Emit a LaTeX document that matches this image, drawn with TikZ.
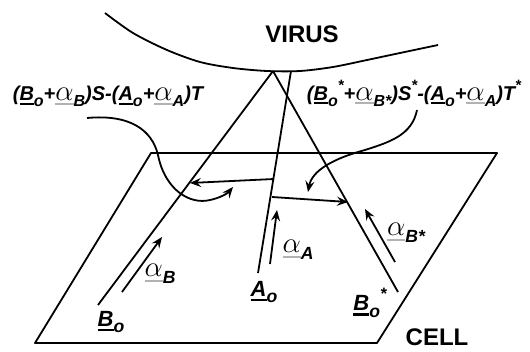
\documentclass[tikz,border=0pt]{standalone}
\usepackage{fontspec}
\setmainfont{Liberation Sans}
\usepackage{graphicx}
\usetikzlibrary{arrows.meta}

% underlined symbol, rule in the given colour
\newcommand\undl[2][black]{\setbox0\hbox{#2}\leavevmode\rlap{\textcolor{#1}{\rule[-0.22em]{\wd0}{0.1em}}}\box0}
% lowered / raised small text
\newcommand\subx[1]{\raisebox{-0.3em}{\scalebox{0.8}{#1}}}
\newcommand\supx[1]{\raisebox{0.5em}{\scalebox{0.75}{#1}}}
\newcommand\alphaul{\undl[gray!60]{\scalebox{1.4}{$\alpha$}}}

\tikzset{
  edge/.style={line width=1.8pt, line join=round},
  vec/.style={line width=1.8pt, -{Stealth[length=11pt,width=9pt,inset=4pt]}},
  lbl/.style={font=\fontsize{22}{24}\selectfont\bfseries\itshape, inner sep=0pt},
  formula/.style={font=\fontsize{20}{22}\selectfont\bfseries\itshape, inner sep=0pt},
  title/.style={font=\fontsize{24}{26}\selectfont\bfseries, inner sep=0pt}
}

\begin{document}
\begin{tikzpicture}[x=1pt,y=-1pt]
\useasboundingbox (0,0) rectangle (530,351);

% virus membrane
\draw[edge] plot[smooth] coordinates {(105,13) (133,33) (167,50) (200,62) (233,68) (267,71) (300,71) (333,67) (367,60) (400,53) (438,45)};
\node[title] (virus) at (302,34) {VIRUS};

% cell surface
\coordinate (p1) at (151,153);
\coordinate (p2) at (497,153);
\coordinate (p3) at (377,343);
\coordinate (p4) at (35,343);
\draw[edge] (p1) -- (p2) -- (p3) -- (p4) -- cycle;
\node[title] (cell) at (437,337) {CELL};

% binding lines from the virus to the cell
\coordinate (apex) at (273,71);
\coordinate (bend) at (98,305);
\coordinate (bsend) at (398,292);
\coordinate (atop) at (291,71);
\coordinate (aend) at (258,273);
\draw[edge] (apex) -- (bend);
\draw[edge] (apex) -- (bsend);
\draw[edge] (atop) -- (aend);

% displacement vectors between the lines
\coordinate (la) at (274,179);
\coordinate (lb) at (190,183);
\coordinate (ra) at (272,197);
\coordinate (rb) at (348,202);
\draw[vec] (la) -- (lb);
\draw[vec] (ra) -- (rb);

% small arrows alongside the lines
\coordinate (ab1) at (122,292); \coordinate (ab2) at (162,237);
\coordinate (aa1) at (270,264); \coordinate (aa2) at (277,210);
\coordinate (as1) at (395,262); \coordinate (as2) at (365,209);
\draw[vec] (ab1) -- (ab2);
\draw[vec] (aa1) -- (aa2);
\draw[vec] (as1) -- (as2);

\node[lbl] (alb) at (160,274) {\alphaul\subx{B}};
\node[lbl] (ala) at (298,250) {\alphaul\subx{A}};
\node[lbl] (als) at (406,233) {\alphaul\subx{B*}};

\node[lbl] (bo) at (111,322) {\undl{B}\subx{o}};
\node[lbl] (ao) at (264,292) {\undl{A}\subx{o}};
\node[lbl] (bso) at (370,303) {\undl{B}\subx{o}\supx{*}};

% expressions
\node[formula] (fl) at (108,96) {(\undl{B}\subx{o}+\alphaul\subx{B})S-(\undl{A}\subx{o}+\alphaul\subx{A})T};
\node[formula] (fr) at (414,93) {(\undl{B}\subx{o}\supx{*}+\alphaul\subx{B*})S\supx{*}-(\undl{A}\subx{o}+\alphaul\subx{A})T\supx{*}};

% pointers from expressions to vectors
\coordinate (cl0) at (87,118);
\coordinate (cl1) at (158,155);
\coordinate (cl2) at (210,200);
\coordinate (cl3) at (233,187);
\draw[vec] (cl0) .. controls (130,114) and (152,130) .. (cl1)
  .. controls (165,190) and (190,205) .. (cl2)
  .. controls (220,198) and (228,193) .. (cl3);
\coordinate (cr0) at (417,110);
\coordinate (cr1) at (365,150);
\coordinate (cr2) at (308,192);
\draw[vec] (cr0) .. controls (412,135) and (390,142) .. (cr1)
  .. controls (335,158) and (312,170) .. (cr2);
\end{tikzpicture}
\end{document}
